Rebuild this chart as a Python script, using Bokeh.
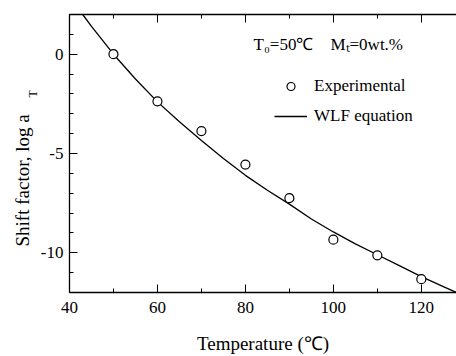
import numpy as np
from bokeh.plotting import figure
from bokeh.models import (LinearAxis, SingleIntervalTicker, Label, Legend, LegendItem,
                          Range1d, Title, PrintfTickFormatter, CustomJSTickFormatter)
from bokeh.embed import file_html
from bokeh.resources import INLINE

# Experimental data
temp_exp = [50, 60, 70, 80, 90, 100, 110, 120]
log_at_exp = [0.0, -2.37, -3.87, -5.56, -7.25, -9.34, -10.13, -11.33]

# WLF equation curve
temp_wlf = [43, 45, 50, 55, 60, 65, 70, 75, 80, 85, 90, 95, 100, 105, 110, 115, 120, 125, 128]
log_at_wlf = [2.0, 1.4, 0.0, -1.25, -2.4, -3.4, -4.35, -5.25, -6.1, -6.85, -7.55, -8.3,
              -8.95, -9.55, -10.1, -10.65, -11.2, -11.7, -12.0]

FONT = "Liberation Serif"
NB = "\u00a0"

p = figure(width=456, height=356, output_backend="svg", toolbar_location=None,
           x_range=Range1d(40, 128), y_range=Range1d(-12, 2),
           x_axis_location=None, y_axis_location=None,
           min_border_left=69, min_border_right=0, min_border_top=14, min_border_bottom=61)
p.outline_line_color = None
p.grid.visible = False
p.background_fill_color = "white"
p.border_fill_color = "white"

def style(ax):
    ax.axis_line_color = "black"
    ax.axis_line_width = 1.3
    ax.major_tick_in = 8
    ax.major_tick_out = 0
    ax.minor_tick_in = 4
    ax.minor_tick_out = 0
    ax.major_tick_line_color = "black"
    ax.minor_tick_line_color = "black"
    ax.major_label_text_font = FONT
    ax.major_label_text_font_size = "17px"
    ax.major_label_text_color = "black"

xb = LinearAxis(ticker=SingleIntervalTicker(interval=20, num_minor_ticks=2),
                formatter=PrintfTickFormatter(format="%d"))
style(xb)
xb.major_label_standoff = 9
xb.axis_label = "Temperature (\u2103)"
xb.axis_label_text_font = FONT
xb.axis_label_text_font_size = "19px"
xb.axis_label_text_font_style = "normal"
xb.axis_label_text_color = "black"
xb.axis_label_standoff = 17
p.add_layout(xb, "below")

xt = LinearAxis(ticker=SingleIntervalTicker(interval=20, num_minor_ticks=2),
                formatter=CustomJSTickFormatter(code="return ''"))
style(xt)
xt.major_label_standoff = 0
p.add_layout(xt, "above")

yl = LinearAxis(ticker=SingleIntervalTicker(interval=5, num_minor_ticks=5),
                formatter=PrintfTickFormatter(format="%d"))
style(yl)
yl.major_label_standoff = 6
p.add_layout(yl, "left")

# y axis title: subscript first (closer to axis), then main text
t_sub = Title(text="T", text_font=FONT, text_font_size="12px", text_font_style="normal",
              text_color="black", align="left", offset=195, standoff=-4)
p.add_layout(t_sub, "left")
t_main = Title(text="Shift factor, log a", text_font=FONT, text_font_size="19px",
               text_font_style="normal", text_color="black", align="left", offset=46,
               standoff=-14)
p.add_layout(t_main, "left")

r_line = p.line(temp_wlf, log_at_wlf, line_color="black", line_width=1.3)
r_pts = p.scatter(temp_exp, log_at_exp, marker="circle", size=9, fill_color="white",
                  line_color="black", line_width=1.2)

legend = Legend(items=[LegendItem(label="Experimental", renderers=[r_pts]),
                       LegendItem(label="WLF equation", renderers=[r_line])],
                location=(205, 166), orientation="vertical")
legend.border_line_color = None
legend.background_fill_alpha = 0
legend.padding = 0
legend.margin = 0
legend.spacing = 10
legend.glyph_width = 33
legend.glyph_height = 20
legend.label_height = 20
legend.label_standoff = 7
legend.label_text_font = FONT
legend.label_text_font_size = "17px"
legend.label_text_color = "black"
p.add_layout(legend, "center")

header = Label(x=184, y=248, x_units="screen", y_units="screen",
               text="T\u2080=50\u2103" + NB * 4 + "M\u209c=0wt.%",
               text_font=FONT, text_font_size="17px", text_color="black",
               text_align="left", text_baseline="middle")
p.add_layout(header)

open("out.html", "w").write(file_html(p, INLINE))
